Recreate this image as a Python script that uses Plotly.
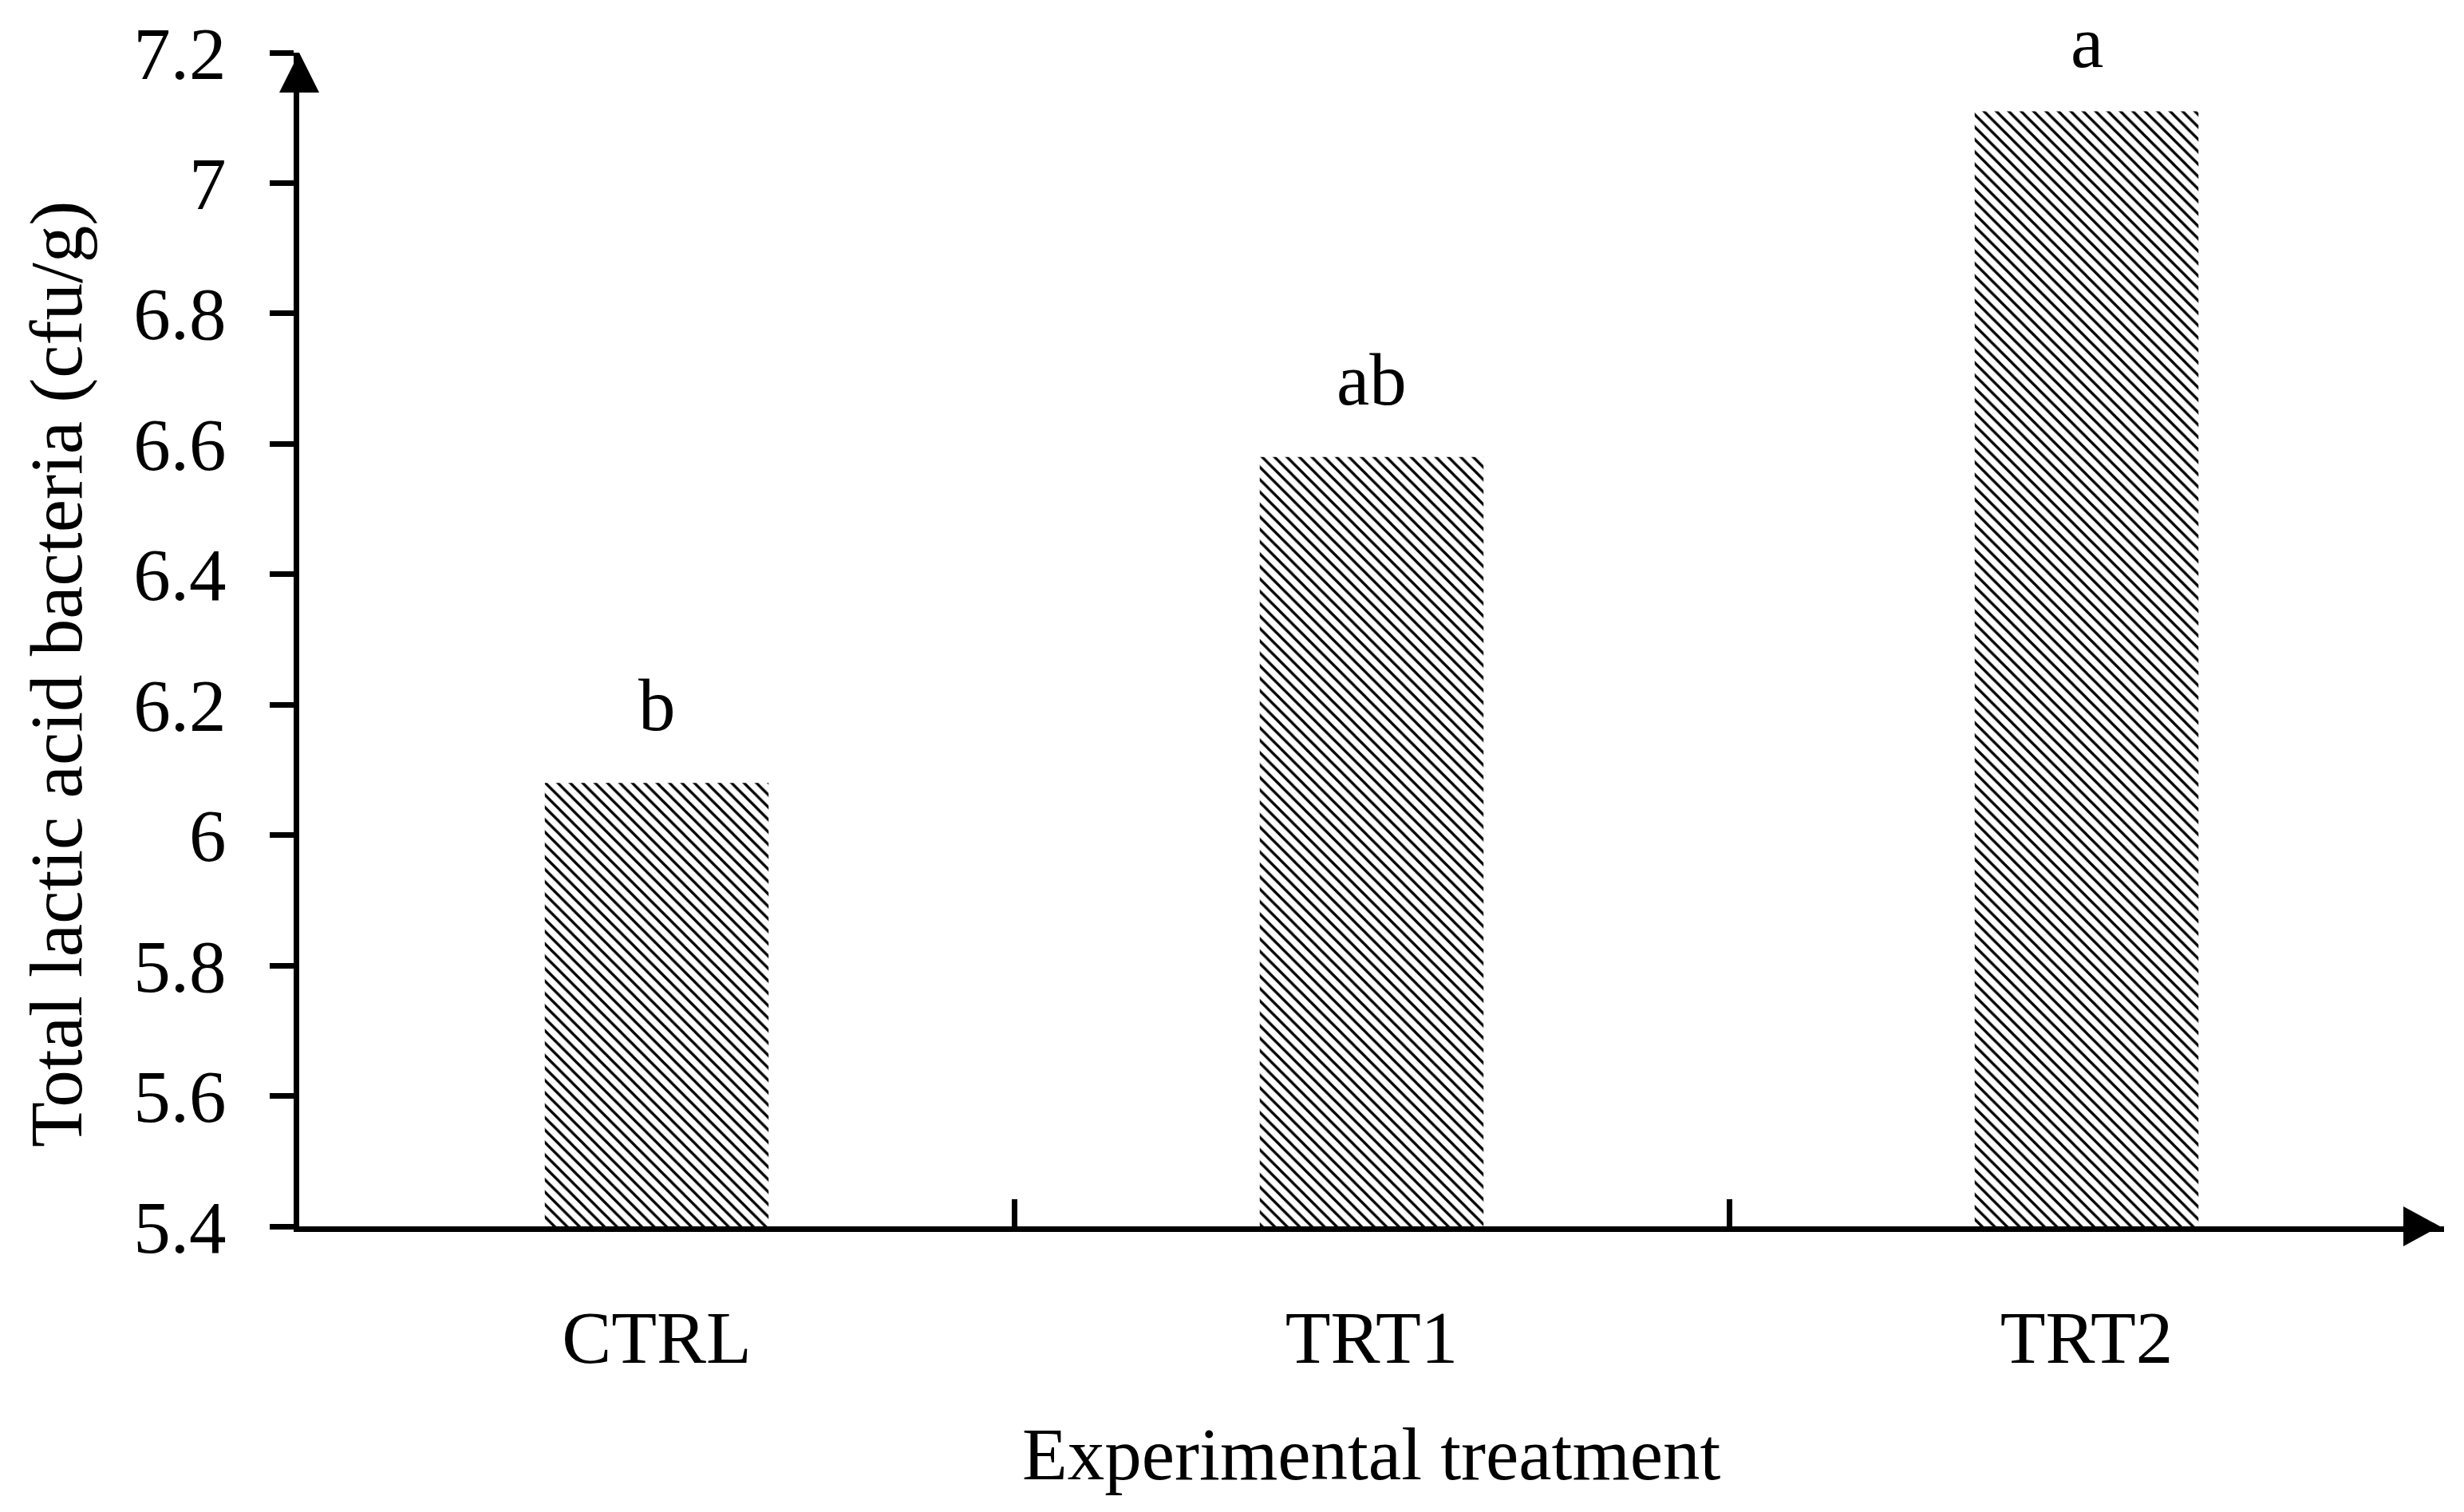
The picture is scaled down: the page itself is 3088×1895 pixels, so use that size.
import plotly.graph_objects as go

categories = ["CTRL", "TRT1", "TRT2"]
values = [6.08, 6.58, 7.11]
letters = ["b", "ab", "a"]
ytick_vals = [5.4, 5.6, 5.8, 6.0, 6.2, 6.4, 6.6, 6.8, 7.0, 7.2]
ytick_text = ["5.4", "5.6", "5.8", "6", "6.2", "6.4", "6.6", "6.8", "7", "7.2"]

W, H = 3088, 1895
L, R, T, B = 375, 25, 66, 358
PW, PH = W - L - R, H - T - B
YMIN, YMAX = 5.4, 7.2
FONT = "Palatino Linotype, Book Antiqua, Liberation Serif, serif"
FS = 93

fig = go.Figure()
fig.add_trace(go.Bar(
    x=categories, y=values, width=0.313,
    marker=dict(color="white", line=dict(width=0),
                pattern=dict(shape="\\", size=11, solidity=0.3,
                             fgcolor="black", bgcolor="white", fillmode="replace")),
    showlegend=False, hoverinfo="skip",
))

for c, v, t in zip(categories, values, letters):
    top_px = T + (YMAX - v) / (YMAX - YMIN) * PH
    shift = min(44, top_px - 1.12 * FS - 2)  # keep the label box inside the page
    fig.add_annotation(x=c, y=v, text=t, showarrow=False, xref="x", yref="y",
                       yanchor="bottom", yshift=shift,
                       font=dict(family=FONT, size=FS, color="black"))

fig.add_annotation(x=-(L - 70) / PW, y=(H - B - 845) / PH, xref="paper", yref="paper",
                   text="Total lactic acid bacteria (cfu/g)", textangle=-90, showarrow=False,
                   xanchor="center", yanchor="middle",
                   font=dict(family=FONT, size=FS, color="black"))
fig.add_annotation(x=0.5, y=-(1822 - (H - B)) / PH, xref="paper", yref="paper",
                   text="Experimental treatment", showarrow=False,
                   xanchor="center", yanchor="middle",
                   font=dict(family=FONT, size=FS, color="black"))

# axis arrowheads
ah = 50
fig.add_shape(type="path", xref="paper", yref="paper",
              path=f"M 0 1 L {-25/PW} {1-ah/PH} L {25/PW} {1-ah/PH} Z",
              fillcolor="black", line=dict(width=0))
tipx = 1 - 5 / PW
fig.add_shape(type="path", xref="paper", yref="paper",
              path=f"M {tipx} 0 L {tipx-46/PW} {25/PH} L {tipx-46/PW} {-25/PH} Z",
              fillcolor="black", line=dict(width=0))

fig.update_layout(
    width=W, height=H,
    margin=dict(l=L, r=R, t=T, b=B, autoexpand=False),
    paper_bgcolor="white", plot_bgcolor="white",
    font=dict(family=FONT, size=FS, color="black"),
)
fig.update_xaxes(
    range=[-0.5, 2.5], showline=True, linecolor="black", linewidth=7,
    ticks="inside", tickson="boundaries", ticklen=34, tickwidth=7, tickcolor="black",
    showgrid=False, zeroline=False, ticklabelstandoff=52,
    tickfont=dict(family=FONT, size=FS, color="black"),
)
fig.update_yaxes(
    range=[YMIN, YMAX], showline=True, linecolor="black", linewidth=7,
    ticks="outside", ticklen=30, tickwidth=7, tickcolor="black",
    tickvals=ytick_vals, ticktext=ytick_text,
    showgrid=False, zeroline=False, ticklabelstandoff=36,
    tickfont=dict(family=FONT, size=FS, color="black"),
)

fig.write_html("out.html", config={"displayModeBar": False},
               post_script="document.body.style.margin='0';document.body.style.overflow='hidden';")
